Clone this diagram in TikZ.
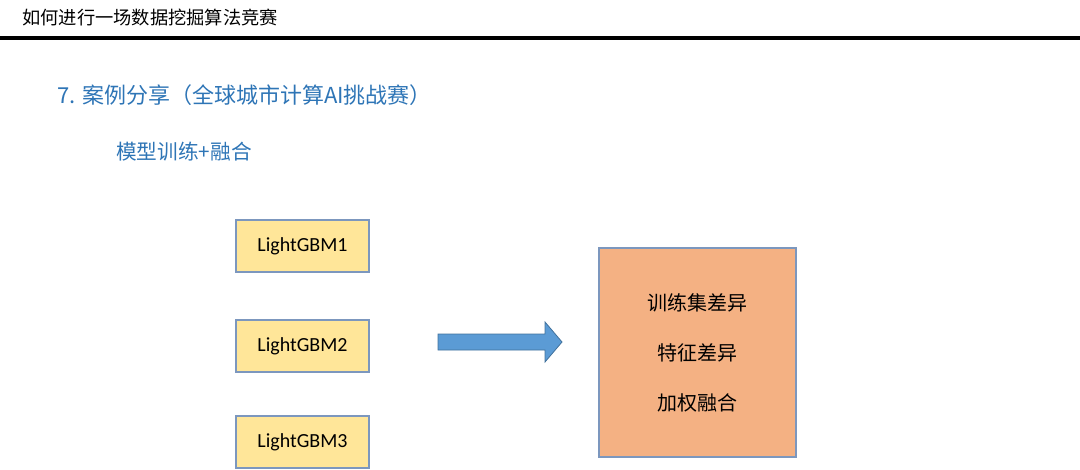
\documentclass[tikz,border=0pt]{standalone}
\usepackage{fontspec}
\setmainfont{Carlito}
\newfontfamily\cjk{Noto Sans CJK SC}
\usepackage{xcolor}
\usepackage{tikz}
\usetikzlibrary{positioning,calc}

\definecolor{titleblue}{RGB}{46,117,182}
\definecolor{gbmfill}{RGB}{255,230,153}
\definecolor{boxline}{RGB}{124,151,190}
\definecolor{arrowfill}{RGB}{91,155,213}
\definecolor{arrowline}{RGB}{65,113,156}
\definecolor{mergefill}{RGB}{244,177,131}

\tikzset{
	gbmbox/.style={draw=boxline, line width=0.9pt, fill=gbmfill, minimum width=99.75pt, minimum height=39pt, inner sep=0pt, font=\fontsize{15}{18}\selectfont},
	mergebox/.style={draw=boxline, line width=0.9pt, fill=mergefill, minimum width=147.75pt, minimum height=156.75pt, align=center, font=\cjk\fontsize{15}{37.5}\selectfont}
}

\begin{document}
\begin{tikzpicture}[x=0.75pt, y=-0.75pt]
		\useasboundingbox (0,0) rectangle (1080,469);

		% header
		\node[anchor=west, inner sep=0pt, font=\cjk\fontsize{13.7}{16}\selectfont] (header) at (22,18) {如何进行一场数据挖掘算法竞赛};
		\draw[line width=2.3pt] (0,38) coordinate (ruleL) -- (1080,38) coordinate (ruleR);

		% titles
		\node[anchor=west, inner sep=0pt, text=titleblue, font=\cjk\fontsize{16.5}{20}\selectfont] (title) at (57,95) {7. 案例分享（全球城市计算AI挑战赛）};
		\node[anchor=west, inner sep=0pt, text=titleblue, font=\cjk\fontsize{15.5}{20}\selectfont] (subtitle) at (116,152) {模型训练+融合};

		% models
		\node[gbmbox] (gbmA) at (302.5,246) {LightGBM1};
		\node[gbmbox] (gbmB) at (302.5,346) {LightGBM2};
		\node[gbmbox] (gbmC) at (302.5,442) {LightGBM3};

		% arrow
		\coordinate (arr) at (438,342);
		\draw[arrowline, fill=arrowfill, line width=0.6pt] (arr) ++(0,-8) -- ++(107,0) -- ++(0,-12) -- ++(17,20) -- ++(-17,20) -- ++(0,-12) -- ++(-107,0) -- cycle;

		% merge
		\node[mergebox] (merge) at (697.5,352.5) {训练集差异\\特征差异\\加权融合};
	\end{tikzpicture}
\end{document}
